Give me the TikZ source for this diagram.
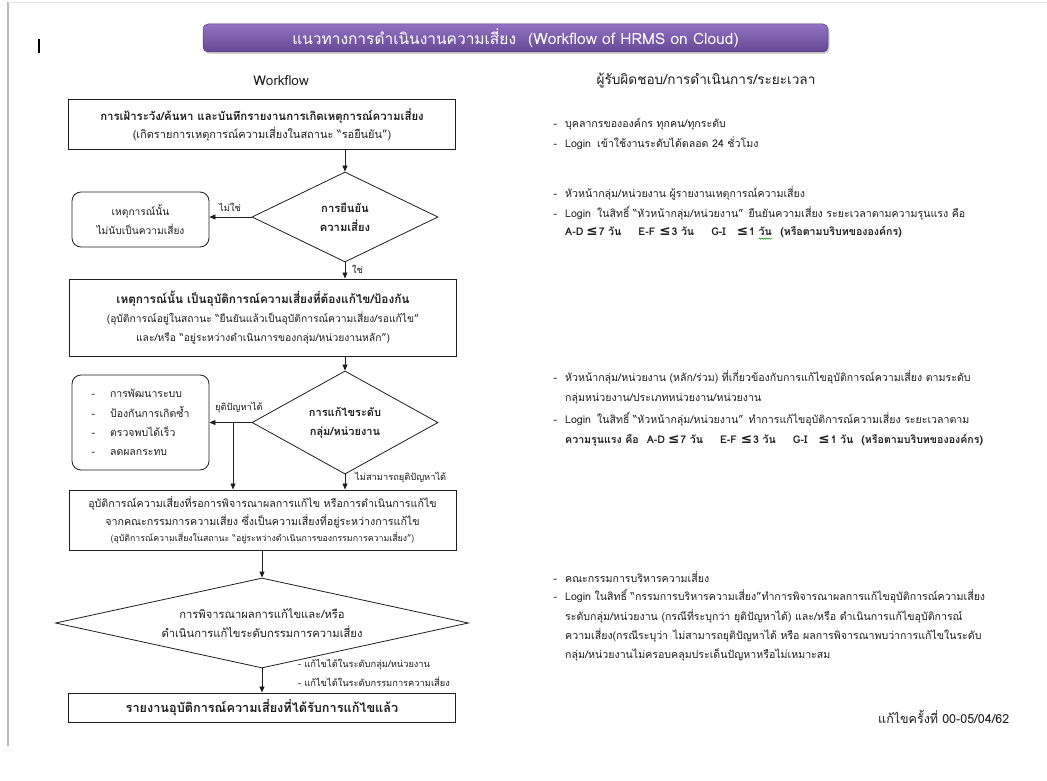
\documentclass[tikz,border=0pt]{standalone}
\usepackage{fontspec}
\setmainfont[Script=Thai]{Loma}
\newfontfamily\symfont{DejaVu Sans}
\usetikzlibrary{shapes.geometric,arrows.meta,shadows,decorations.pathmorphing}

% less-or-equal sign taken from DejaVu Sans
\newcommand\lesign{{\symfont\fontsize{13.5}{13}\selectfont ≤}}
% word marked with a green wavy underline
\newcommand\spellwave[1]{\setbox0\hbox{#1}\rlap{#1}\tikz[baseline=0pt]\draw[green!60!black,line width=0.5pt,decorate,decoration={snake,amplitude=0.6pt,segment length=2.4pt}] (0pt,-2.8pt) -- (\wd0,-2.8pt);}

\definecolor{ink}{RGB}{30,30,30}
\definecolor{bantop}{RGB}{146,114,194}
\definecolor{banbot}{RGB}{102,72,148}
\definecolor{banedge}{RGB}{88,60,128}

\tikzset{
  box/.style={draw=ink, line width=1pt, minimum width=387pt, align=center, inner sep=0pt, text=ink},
  okbox/.style={draw=ink, rounded corners=9pt, line width=0.8pt, minimum width=137pt, align=center, inner sep=0pt, text=ink},
  decision/.style={draw=ink, diamond, line width=0.8pt, inner sep=0pt, align=center, text=ink},
  arr/.style={-{Triangle[length=6pt,width=5pt]}, line width=0.8pt, draw=ink},
  lbl/.style={font=\fontsize{9.3}{10}\selectfont, inner sep=0pt, text=ink},
  rtext/.style={anchor=west, inner sep=0pt, font=\fontsize{10.6}{12}\selectfont, text=ink},
  rbold/.style={rtext, font=\fontsize{10.6}{12}\selectfont\bfseries},
  banner/.style={rounded corners=5pt, minimum width=625pt, minimum height=28pt, top color=bantop, bottom color=banbot, draw=banedge, line width=0.5pt, drop shadow={shadow xshift=1.5pt, shadow yshift=-2pt, opacity=0.35}, text=white, font=\fontsize{15.5}{17}\selectfont},
}
\newcommand\bul{\llap{-\hspace{8pt}}}

\begin{document}
\begin{tikzpicture}[x=1pt,y=-1pt]
\fill[white] (0,0) rectangle (1047,781);
\useasboundingbox (0,0) rectangle (1047,781);

% page edge and text cursor
\draw[gray!55, line width=2pt] (8,2) -- (8,746);
\draw[gray!20, line width=0.6pt] (8,2.5) -- (1047,2.5);
\fill[black] (37.5,39) rectangle (39.5,53);

% title banner
\node[banner] (title) at (515.5,38) {แนวทางการดำเนินงานความเสี่ยง\hspace{12pt}(Workflow of HRMS on Cloud)};

% column headings
\node[font=\fontsize{13.5}{15}\selectfont, text=ink] (hleft) at (281,81) {Workflow};
\node[font=\fontsize{13.6}{16}\selectfont, text=ink] (hright) at (706,81) {ผู้รับผิดชอบ/การดำเนินการ/ระยะเวลา};

% flowchart
\node[box, minimum height=50pt, font=\fontsize{11}{18}\selectfont] (b1) at (262,125)
  {{\bfseries\fontsize{11.4}{18}\selectfont การเฝ้าระวัง/ค้นหา และบันทึกรายงานการเกิดเหตุการณ์ความเสี่ยง}\\
   (เกิดรายการเหตุการณ์ความเสี่ยงในสถานะ “รอยืนยัน”)};

\node[decision, minimum width=186pt, minimum height=90pt, font=\fontsize{11.2}{19}\selectfont\bfseries] (d1) at (345,217)
  {การยืนยัน\\ความเสี่ยง};

\node[okbox, minimum height=55pt, font=\fontsize{10.2}{19}\selectfont] (ok1) at (140.5,219.5)
  {เหตุการณ์นั้น\\ไม่นับเป็นความเสี่ยง};

\node[box, minimum height=77pt, font=\fontsize{10.3}{19}\selectfont] (b2) at (263,317.5)
  {{\bfseries\fontsize{11.8}{19}\selectfont เหตุการณ์นั้น เป็นอุบัติการณ์ความเสี่ยงที่ต้องแก้ไข/ป้องกัน}\\
   (อุบัติการณ์อยู่ในสถานะ “ยืนยันแล้วเป็นอุบัติการณ์ความเสี่ยง/รอแก้ไข”\\
   และ/หรือ “อยู่ระหว่างดำเนินการของกลุ่ม/หน่วยงานหลัก”)};

\node[decision, minimum width=186pt, minimum height=95pt, font=\fontsize{11}{19}\selectfont\bfseries] (d2) at (345,422.5)
  {การแก้ไขระดับ\\กลุ่ม/หน่วยงาน};

\node[okbox, minimum height=95pt, font=\fontsize{10.5}{19.3}\selectfont, align=left] (ok2) at (140.5,422.5)
  {-\hspace{15pt}การพัฒนาระบบ\\
   -\hspace{15pt}ป้องกันการเกิดซ้ำ\\
   -\hspace{15pt}ตรวจพบได้เร็ว\\
   -\hspace{15pt}ลดผลกระทบ};

\node[box, minimum height=60pt, font=\fontsize{10.7}{18.5}\selectfont] (b3) at (262.5,520)
  {อุบัติการณ์ความเสี่ยงที่รอการพิจารณาผลการแก้ไข หรือการดำเนินการแก้ไข\\
   จากคณะกรรมการความเสี่ยง ซึ่งเป็นความเสี่ยงที่อยู่ระหว่างการแก้ไข\\[-3pt]
   {\fontsize{8.8}{10}\selectfont (อุบัติการณ์ความเสี่ยงในสถานะ “อยู่ระหว่างดำเนินการของกรรมการความเสี่ยง”)}};

\node[decision, aspect=4.6, minimum width=413pt, minimum height=90pt, font=\fontsize{11.2}{18.5}\selectfont] (d3) at (262,623)
  {การพิจารณาผลการแก้ไขและ/หรือ\\ดำเนินการแก้ไขระดับกรรมการความเสี่ยง};

\node[box, minimum height=29pt, font=\fontsize{12.7}{14}\selectfont\bfseries] (b4) at (262,707.5)
  {รายงานอุบัติการณ์ความเสี่ยงที่ได้รับการแก้ไขแล้ว};

% connectors
\draw[arr] (b1.south -| d1.north) -- (d1.north);
\draw[arr] (d1.west) -- (d1.west -| ok1.east);
\draw[arr] (d1.south) -- (d1.south |- b2.north);
\draw[arr] (b2.south -| d2.north) -- (d2.north);
\draw[arr] (d2.west) -- (d2.west -| ok2.east);
\coordinate (split) at (233,422.5);
\draw[arr] (split) -- (split |- b3.north);
\draw[arr] (d2.south) -- (d2.south |- b3.north);
\draw[arr] (b3.south -| d3.north) -- (d3.north);
\draw[arr] (d3.south) -- (d3.south |- b4.north);

% connector labels
\node[lbl, anchor=west] (lno) at (219,207) {ไม่ใช่};
\node[lbl, anchor=west] (lyes) at (352,269) {ใช่};
\node[lbl, anchor=west] (lsolved) at (215,408) {ยุติปัญหาได้};
\node[lbl, anchor=west] (lnotsolved) at (355,478) {ไม่สามารถยุติปัญหาได้};
\node[lbl, anchor=west] (lfix1) at (298,664.5) {- แก้ไขได้ในระดับกลุ่ม/หน่วยงาน};
\node[lbl, anchor=west] (lfix2) at (298,681.5) {- แก้ไขได้ในระดับกรรมการความเสี่ยง};

% responsibilities column
\node[rtext] (r1a) at (565,124) {\bul บุคลากรขององค์กร ทุกคน/ทุกระดับ};
\node[rtext] (r1b) at (565,143) {\bul Login\hspace{6pt}เข้าใช้งานระดับได้ตลอด 24 ชั่วโมง};

\node[rtext] (r2a) at (565,193) {\bul หัวหน้ากลุ่ม/หน่วยงาน ผู้รายงานเหตุการณ์ความเสี่ยง};
\node[rtext] (r2b) at (565,213) {\bul Login\hspace{6pt}ในสิทธิ์ “หัวหน้ากลุ่ม/หน่วยงาน”\hspace{5pt}ยืนยันความเสี่ยง ระยะเวลาตามความรุนแรง คือ};
\node[rbold] (r2c) at (565,233) {A-D\hspace{3pt}\lesign\hspace{1pt}7 วัน\hspace{17pt}E-F\hspace{4pt}\lesign\hspace{1pt}3 วัน\hspace{17pt}G-I\hspace{11pt}\lesign\hspace{1pt}1 \spellwave{วัน}\hspace{8pt}(หรือตามบริบทขององค์กร)};

\node[rtext] (r3a) at (565,377.5) {\bul หัวหน้ากลุ่ม/หน่วยงาน (หลัก/ร่วม) ที่เกี่ยวข้องกับการแก้ไขอุบัติการณ์ความเสี่ยง ตามระดับ};
\node[rtext] (r3b) at (565,398.5) {กลุ่มหน่วยงาน/ประเภทหน่วยงาน/หน่วยงาน};
\node[rtext] (r3c) at (565,419.5) {\bul Login\hspace{6pt}ในสิทธิ์ “หัวหน้ากลุ่ม/หน่วยงาน”\hspace{5pt}ทำการแก้ไขอุบัติการณ์ความเสี่ยง ระยะเวลาตาม};
\node[rbold] (r3d) at (565,440.5) {ความรุนแรง คือ\hspace{8pt}A-D\hspace{3pt}\lesign\hspace{1pt}7 วัน\hspace{17pt}E-F\hspace{4pt}\lesign\hspace{1pt}3 วัน\hspace{17pt}G-I\hspace{11pt}\lesign\hspace{1pt}1 วัน\hspace{8pt}(หรือตามบริบทขององค์กร)};

\node[rtext] (r4a) at (565,577) {\bul คณะกรรมการบริหารความเสี่ยง};
\node[rtext] (r4b) at (565,596.5) {\bul Login ในสิทธิ์ “กรรมการบริหารความเสี่ยง”ทำการพิจารณาผลการแก้ไขอุบัติการณ์ความเสี่ยง};
\node[rtext] (r4c) at (565,616) {ระดับกลุ่ม/หน่วยงาน (กรณีที่ระบุกว่า ยุติปัญหาได้) และ/หรือ ดำเนินการแก้ไขอุบัติการณ์};
\node[rtext] (r4d) at (565,635.5) {ความเสี่ยง(กรณีระบุว่า\hspace{5pt}ไม่สามารถยุติปัญหาได้ หรือ ผลการพิจารณาพบว่าการแก้ไขในระดับ};
\node[rtext] (r4e) at (565,655) {กลุ่ม/หน่วยงานไม่ครอบคลุมประเด็นปัญหาหรือไม่เหมาะสม};

\node[rtext, font=\fontsize{12.5}{14}\selectfont] (rev) at (878,717) {แก้ไขครั้งที่ 00-05/04/62};
\end{tikzpicture}
\end{document}
